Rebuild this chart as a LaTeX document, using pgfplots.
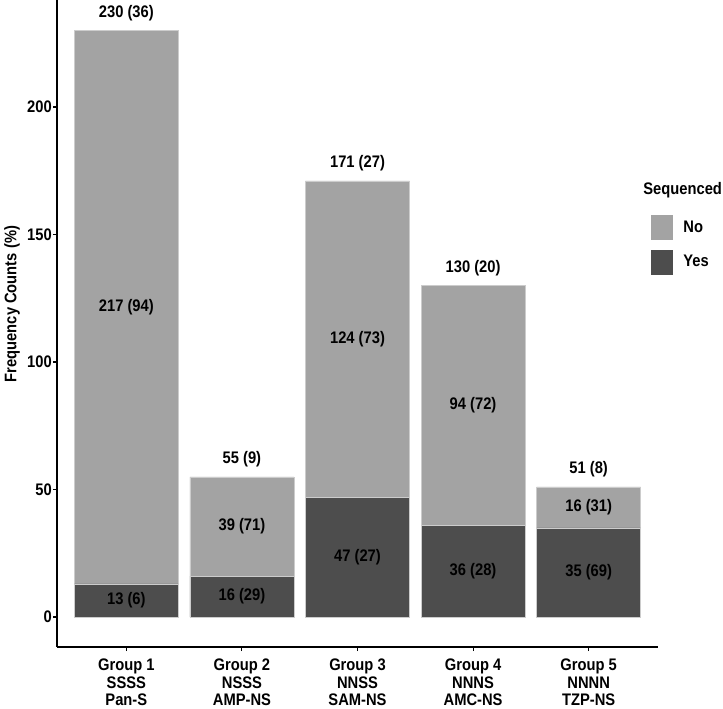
\documentclass[border=0pt]{standalone}
\usepackage{fontspec}
\setmainfont{Liberation Sans}[FakeStretch=0.88]
\usepackage{pgfplots}
\usepackage{pgfplotstable}
\pgfplotsset{compat=1.18}
\definecolor{colNo}{HTML}{A3A3A3}
\definecolor{colYes}{HTML}{4D4D4D}
\newcommand{\lbl}{\fontsize{16.8}{17.5}\selectfont\bfseries}

\pgfplotstableread[col sep=comma]{
x,yes,no
1,13,217
2,16,39
3,47,124
4,36,94
5,35,16
}\bars

\pgfplotstableread[col sep=comma]{
x,y,label
1,6.5,13 (6)
1,121.5,217 (94)
1,236.8,230 (36)
2,8,16 (29)
2,35.5,39 (71)
2,61.8,55 (9)
3,23.5,47 (27)
3,109,124 (73)
3,177.8,171 (27)
4,18,36 (28)
4,83,94 (72)
4,136.8,130 (20)
5,17.5,35 (69)
5,43,16 (31)
5,57.8,51 (8)
}\labels

\pgfplotsset{
  common/.style={
    scale only axis, width=601bp, height=647bp,
    xmin=0.4, xmax=5.6, ymin=-11.76, ymax=241.96,
  }
}

\begin{document}
\begin{tikzpicture}
\path[use as bounding box] (-57bp,-62bp) rectangle (666bp,647bp);
\begin{axis}[common,
  ybar stacked, bar width=0.9,
  axis x line*=bottom, axis y line*=left,
  axis line style={line width=1.2bp, black, -},
  xtick={1,2,3,4,5},
  xticklabels={{Group 1\\SSSS\\Pan-S},{Group 2\\NSSS\\AMP-NS},{Group 3\\NNSS\\SAM-NS},{Group 4\\NNNS\\AMC-NS},{Group 5\\NNNN\\TZP-NS}},
  ytick={0,50,100,150,200},
  tick align=outside, major tick length=4bp,
  tick style={line width=1.1bp, black},
  xticklabel style={font=\lbl, align=center, yshift=-4.5bp},
  yticklabel style={font=\lbl, inner sep=1bp},
  /pgf/number format/assume math mode=true,
  ylabel={Frequency Counts (\%)},
  ylabel style={font=\lbl, at={(axis description cs:-0.0749,0.530)}, anchor=center},
  legend style={at={(axis description cs:0.988,0.7187)}, anchor=north west,
    draw=none, fill=none, font=\lbl, inner sep=0pt, row sep=10bp, column sep=11bp,
    nodes={inner sep=0pt, anchor=west}},
  legend cell align=left,
]
\addplot[forget plot, fill=colYes, draw=black!20, line width=0.5bp] table[x=x, y=yes]{\bars};
\addplot[forget plot, fill=colNo, draw=black!20, line width=0.5bp] table[x=x, y=no]{\bars};
\addlegendimage{legend image code/.code={\path[draw=none, fill=none] (0bp,-16bp) rectangle (0bp,7bp);}}
\addlegendentry{\hspace{-40bp}Sequenced}
\addlegendimage{legend image code/.code={\fill[colNo] (0bp,-12bp) rectangle (21bp,12bp);}}
\addlegendentry{No}
\addlegendimage{legend image code/.code={\fill[colYes] (0bp,-12bp) rectangle (21bp,12bp);}}
\addlegendentry{Yes}
\end{axis}
\begin{axis}[common, hide axis, clip=false]
\addplot[draw=none, black, nodes near coords, point meta=explicit symbolic,
  every node near coord/.append style={font=\lbl, anchor=center, text=black}]
  table[x=x, y=y, meta=label]{\labels};
\end{axis}
\end{tikzpicture}
\end{document}
